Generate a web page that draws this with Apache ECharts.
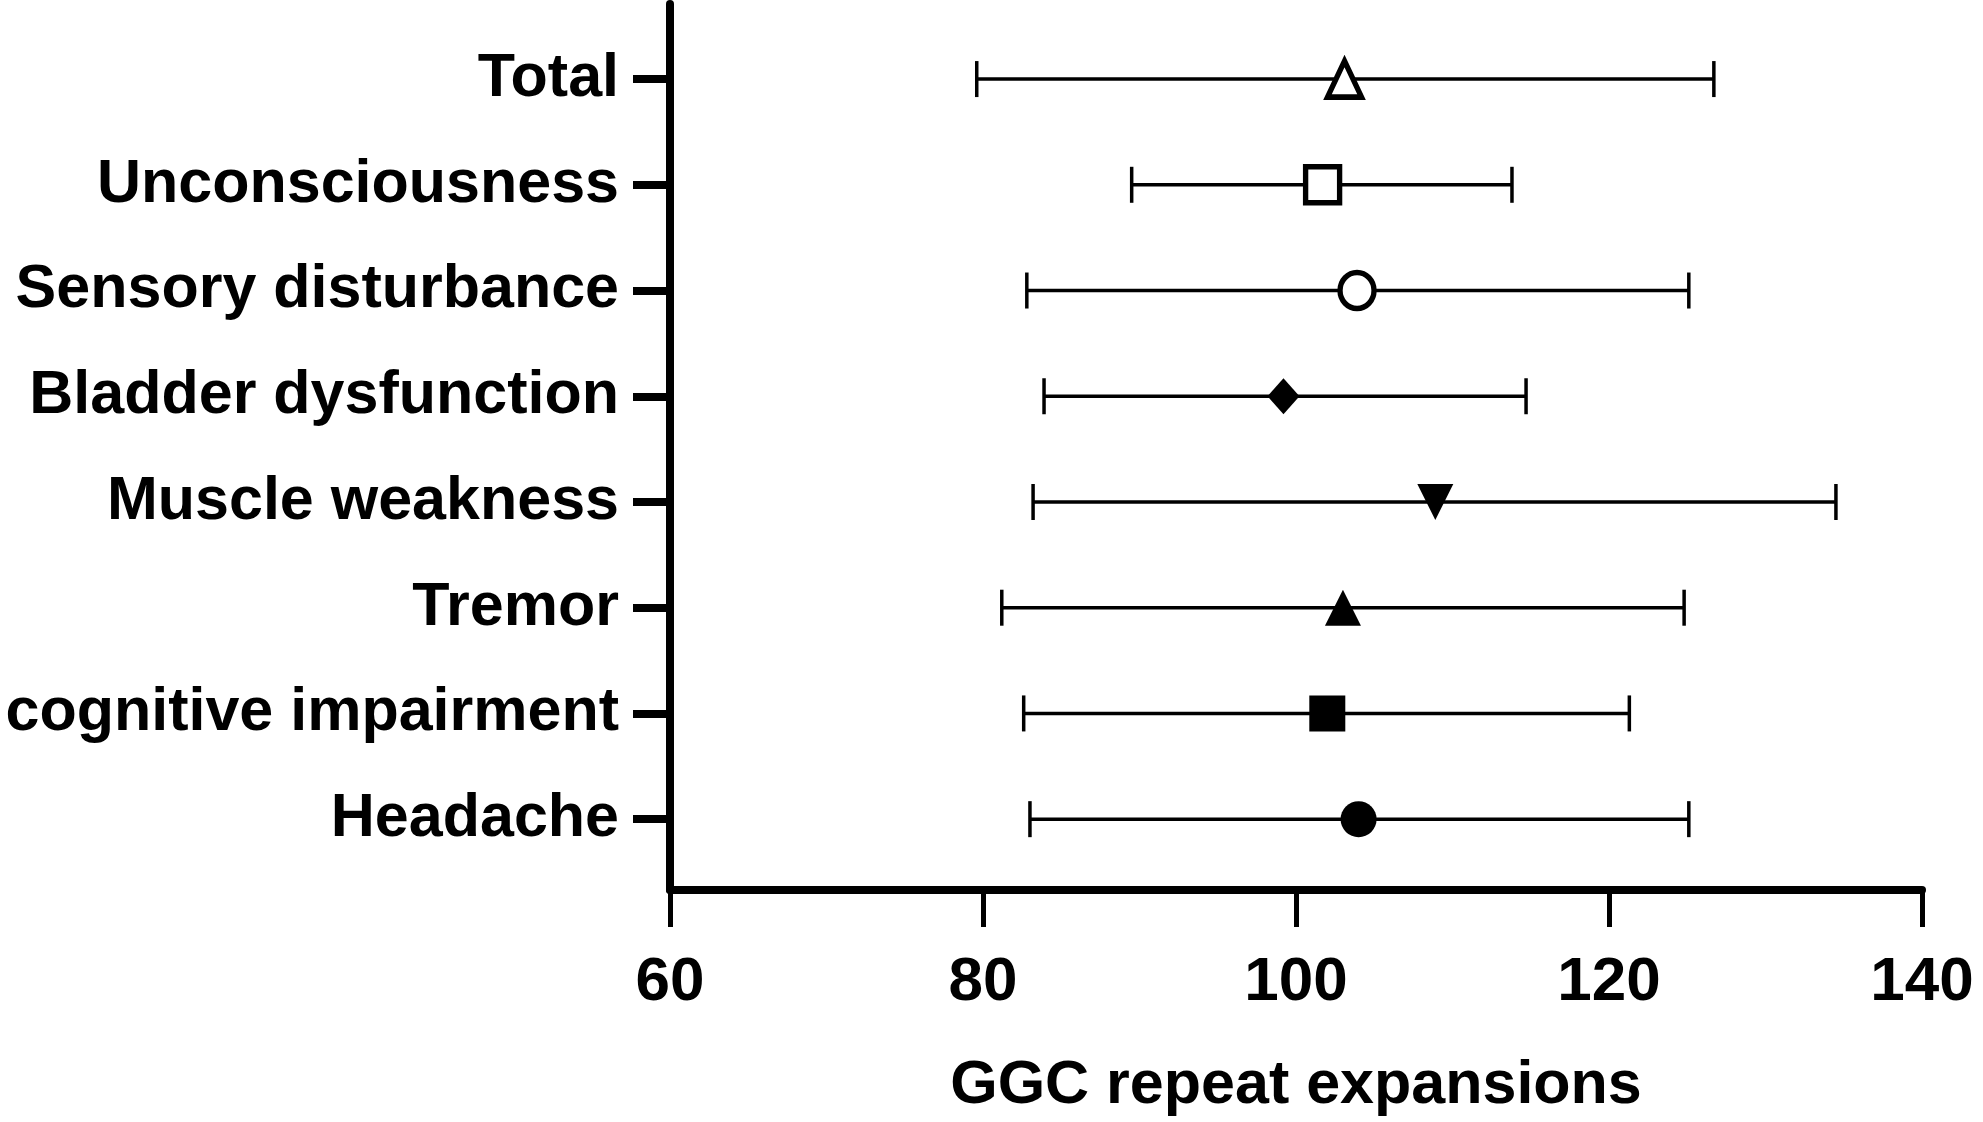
<!DOCTYPE html>
<html>
<head>
<meta charset="utf-8">
<title>GGC repeat expansions</title>
<script src="https://cdn.jsdelivr.net/npm/echarts@6/dist/echarts.min.js"></script>
<style>
  html, body { margin: 0; padding: 0; background: #fff; }
  #chart { width: 1983px; height: 1122px; }
</style>
</head>
<body>
<div id="chart"></div>
<script>
// rows from bottom (index 0) to top
var categories = ['Headache', 'cognitive impairment', 'Tremor', 'Muscle weakness',
                  'Bladder dysfunction', 'Sensory disturbance', 'Unconsciousness', 'Total'];
var means = [104.0, 102.0, 103.0, 108.9, 99.2, 103.9, 101.7, 103.1];
var lower = [83.0, 82.6, 81.2, 83.2, 83.9, 82.8, 89.5, 79.6];
var upper = [125.1, 121.3, 124.8, 134.5, 114.7, 125.1, 113.8, 126.7];
var xTicks = [60, 80, 100, 120, 140];

// marker look per row (same order as categories)
var markers = [
  { symbol: 'circle', open: false },
  { symbol: 'rect', open: false },
  { symbol: 'triangle', open: false },
  { symbol: 'triangle', open: false, rotate: 180 },
  { symbol: 'diamond', open: false, w: 32 },
  { symbol: 'circle', open: true },
  { symbol: 'rect', open: true },
  { symbol: 'triangle', open: true }
];

var rowIdx = categories.map(function (c, i) { return i; });
var font = 'Liberation Sans, Arial, sans-serif';

var chart = echarts.init(document.getElementById('chart'));

// 误差线
var barData = rowIdx.map(function (i) { return [lower[i], upper[i], i]; });

// 均值点
var pointData = rowIdx.map(function (i) {
  var m = markers[i];
  return {
    value: [means[i], i],
    symbol: m.symbol,
    symbolRotate: m.rotate || 0,
    symbolSize: m.open ? [34, 36] : [m.w || 36, 36],
    itemStyle: m.open
      ? { color: '#fff', borderColor: '#000', borderWidth: 5.5, opacity: 1 }
      : { color: '#000', borderWidth: 0, opacity: 1 }
  };
});

var option = {
  animation: false,
  backgroundColor: '#fff',
  grid: { left: 670, right: 61, top: 4, bottom: 230, containLabel: false },
  xAxis: {
    type: 'value',
    min: xTicks[0],
    max: xTicks[xTicks.length - 1],
    interval: 20,
    name: 'GGC repeat expansions',
    nameLocation: 'middle',
    nameGap: 166,
    nameTextStyle: { fontFamily: font, fontWeight: 'bold', fontSize: 61, color: '#000' },
    axisLine: { show: true, onZero: false, lineStyle: { color: '#000', width: 8 } },
    axisTick: { show: true, length: 37, lineStyle: { color: '#000', width: 5 } },
    axisLabel: { margin: 62, fontFamily: font, fontWeight: 'bold', fontSize: 62, color: '#000' },
    splitLine: { show: false }
  },
  yAxis: {
    type: 'value',
    min: -0.67,
    max: 7.71,
    axisLine: { show: true, onZero: false, lineStyle: { color: '#000', width: 8 } },
    axisTick: { show: true, length: 37, customValues: rowIdx, lineStyle: { color: '#000', width: 8 } },
    axisLabel: {
      customValues: rowIdx,
      margin: 51,
      fontFamily: font, fontWeight: 'bold', fontSize: 61, color: '#000',
      formatter: function (v) { return categories[Math.round(v)]; }
    },
    splitLine: { show: false }
  },
  series: [
    {
      type: 'custom',
      data: barData,
      encode: { x: [0, 1], y: 2 },
      z: 2,
      renderItem: function (params, api) {
        var a = api.coord([api.value(0), api.value(2)]);
        var b = api.coord([api.value(1), api.value(2)]);
        var cap = 18;
        var st = { stroke: '#000', lineWidth: 3.5 };
        return {
          type: 'group',
          children: [
            { type: 'line', shape: { x1: a[0], y1: a[1], x2: b[0], y2: b[1] }, style: st },
            { type: 'line', shape: { x1: a[0], y1: a[1] - cap, x2: a[0], y2: a[1] + cap }, style: st },
            { type: 'line', shape: { x1: b[0], y1: b[1] - cap, x2: b[0], y2: b[1] + cap }, style: st }
          ]
        };
      }
    },
    {
      type: 'scatter',
      data: pointData,
      z: 5
    }
  ]
};

chart.setOption(option);
</script>
</body>
</html>
